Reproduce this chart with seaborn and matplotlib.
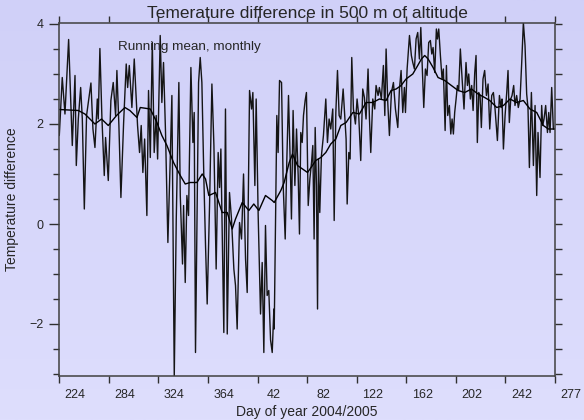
import numpy as np
import matplotlib
matplotlib.use("Agg")
import matplotlib.pyplot as plt
import matplotlib.transforms as mtransforms
from matplotlib.ticker import MultipleLocator
import seaborn as sns

# daily temperature difference, day 0 = day 224 of 2004
day = [0.0, 2.5, 4.8, 7.9, 11.0, 13.3, 14.4, 16.1, 18.1, 19.5, 21.2, 23.1, 24.6, 26.8,
       28.5, 30.2, 32.2, 33.0, 34.4, 36.1, 38.1, 39.2, 41.5, 43.7, 45.7, 47.7, 48.8,
       50.5, 52.2, 54.5, 56.7, 57.9, 59.3,
       61.5, 63.5, 65.8, 66.3, 68.0, 69.4, 70.8, 72.3, 74.2, 75.6, 77.1, 78.8, 80.4,
       82.1, 83.3, 85.5, 86.9, 88.3, 90.0, 92.0, 94.0, 95.4, 97.4, 99.1, 101.3, 102.5,
       104.4, 105.3, 106.7, 108.1, 109.5, 111.5, 113.2, 114.3, 115.4, 118.0, 119.4, 120.8,
       122.5, 123.9, 125.3, 127.3, 129.3, 131.0, 132.9, 134.6, 135.8, 136.9, 138.0,
       139.4, 140.8, 142.3, 144.2, 145.9, 147.9, 149.3, 150.7, 152.7, 154.4, 156.1,
       157.8, 159.2, 161.2, 162.9, 164.0, 165.7, 166.8, 168.5, 170.5, 171.9, 173.3,
       174.7, 176.1, 177.5, 179.0, 180.4, 181.8,
       182.1, 183.2, 184.3, 185.4, 186.6, 188.3, 189.7, 191.4, 192.8, 194.2, 195.6,
       196.7, 198.1, 199.6, 201.0, 202.4, 203.5, 204.6, 205.8, 206.9, 208.3, 209.4,
       210.9, 212.3, 213.7, 214.8, 215.9, 216.8, 217.9, 218.8, 219.6, 220.7, 222.1,
       223.8, 225.8, 227.2, 228.6, 230.0, 231.7, 232.9, 234.3, 235.7, 237.1, 238.5,
       240.5, 242.2,
       243.0, 243.9, 245.3, 246.4, 247.8, 249.2, 250.9, 252.3, 253.7, 255.4, 257.1,
       258.5, 259.9, 261.6, 262.8, 263.9, 265.6, 267.3, 268.4, 270.1, 271.2, 272.9,
       274.6, 275.8, 276.9, 278.3, 279.7, 281.4, 283.1, 284.8, 286.8, 288.2, 289.6,
       291.0, 292.4, 293.3, 294.7, 296.7, 298.3, 299.5, 300.9, 302.3, 303.7,
       305.1, 306.3, 307.4, 308.8, 310.2, 311.6, 313.0, 314.4, 315.6, 316.7, 318.1,
       319.5, 320.4, 321.5, 322.9, 324.3, 325.4, 326.9, 328.0, 329.1, 330.5, 331.7,
       332.8, 333.9, 335.0, 336.2, 337.3, 338.4, 339.8, 341.3, 342.9, 344.6, 345.8,
       346.9, 348.3, 349.4, 350.6, 352.0, 353.1, 354.2, 355.4, 356.5, 357.6, 359.0,
       360.4, 361.9, 363.3, 364.7,
       366.4, 367.8, 369.2, 371.2, 372.9, 374.3, 375.1, 376.3, 377.7, 379.1, 380.2,
       381.3, 382.5, 383.6, 385.0, 386.1, 387.5, 388.9, 390.4, 391.8, 393.2, 394.6,
       396.0, 397.1, 398.3, 400.0, 401.7, 403.1, 404.5, 405.6, 407.3, 408.7, 409.6,
       410.7, 412.1, 413.6, 414.7, 415.8, 417.2, 418.6, 420.0]
temp = [1.77, 2.93, 2.2, 3.69, 1.57, 2.97, 1.17, 2.1, 2.73, 2.1, 0.3, 2.17, 2.43, 2.82,
        1.9, 1.53, 2.5, 2.1, 3.51, 2.13, 0.97, 1.73, 0.87, 2.47, 2.83, 2.17, 3.07,
        1.97, 0.53, 2.03, 3.2, 2.73, 3.17,
        2.33, 3.3, 2.17, 1.97, 1.43, 1.97, 1.03, 1.7, 0.17, 2.67, 1.33, 3.63, 1.43,
        2.17, 1.3, 3.77, 2.43, 3.23, 1.83, -0.37, 1.3, 2.57, -3.05, 0.1, 2.83, 0.57,
        -0.8, 0.37, -1.17, 0.57, 0.17, 3.13, 1.63, 2.23, -2.57, 2.83, 3.33, 2.83,
        0.9, -0.43, -1.6, 0.37, 2.8, 1.57, -0.9, 1.43, 0.73, 1.5, -0.17,
        -2.17, 2.3, -2.2, 0.63, 0.1, -0.9, -1.23, -2.1, 0.03, -0.3, 1.0,
        -0.7, -1.37, 2.67, 2.3, 2.63, 0.77, 2.5, 0.17, -1.8, -0.77, -2.57,
        -0.03, -1.43, -1.33, -2.32, -2.57, -1.7,
        -2.1, -0.03, 2.17, 1.43, 2.87, 2.83, 0.77, -0.3, 1.3, 2.57, 1.3,
        0.1, 2.27, 0.77, 1.9, 0.97, -0.2, 1.83, 1.63, 2.17, 2.47, 2.63,
        0.37, 0.9, 1.23, 1.57, -0.3, 1.93, 0.77, -1.7, 1.3, 0.23, 1.37,
        1.77, 2.5, 1.63, 2.1, 1.9, 2.3, 0.07, 2.23, 3.07, 2.17, 2.1,
        2.7, 2.03,
        1.7, 0.4, 1.43, 1.3, 3.33, 2.3, 2.0, 2.5, 2.17, 1.27, 2.7,
        2.53, 2.1, 3.1, 2.1, 1.43, 2.5, 2.3, 2.77, 2.57, 2.73, 2.5,
        3.17, 2.17, 3.5, 2.43, 1.77, 2.63, 2.83, 2.3, 1.93, 2.7, 3.07,
        2.23, 2.73, 2.23, 3.1, 3.77, 3.37, 3.23, 3.1, 3.7, 3.83,
        3.3, 3.93, 3.23, 2.33, 3.1, 2.97, 3.63, 3.67, 3.4, 3.53, 3.03,
        3.9, 3.7, 3.9, 3.37, 2.9, 3.1, 1.87, 3.17, 2.17, 2.37, 1.8,
        2.1, 1.8, 2.23, 2.5, 2.77, 2.67, 3.5, 2.9, 2.3, 3.23, 2.77,
        3.0, 2.5, 2.77, 2.27, 3.03, 3.37, 1.63, 2.63, 2.57, 1.93, 2.9,
        3.07, 2.57, 2.8, 1.9,
        2.57, 2.63, 2.3, 1.67, 2.57, 2.33, 2.5, 1.5, 2.17, 2.63, 3.07,
        2.03, 2.5, 2.57, 2.77, 2.37, 2.57, 2.33, 2.5, 3.23, 4.03, 3.57,
        2.6, 2.33, 1.13, 2.63, 1.17, 2.37, 0.57, 1.83, 0.93, 2.37, 1.97,
        2.1, 2.37, 1.83, 2.23, 1.83, 2.73, 1.9, 1.9]

# monthly running mean
mean_day = [0.0, 16.1, 21.7, 30.2, 35.8, 41.5, 48.5, 55.6, 59.8, 65.8, 68.6, 77.1,
            82.7, 86.9, 91.2, 96.8, 102.5, 106.7, 110.9, 116.6, 121.1, 123.9, 126.7,
            132.4, 138.0, 142.3, 146.5, 149.3, 155.0, 160.6, 164.8, 169.1, 174.7,
            180.4, 182.1, 187.7, 190.5, 194.8, 197.6, 201.8, 206.1, 210.3, 214.5,
            217.3, 221.6, 225.8, 230.0, 234.3, 238.5, 243.0, 248.7, 254.3, 259.9,
            265.6, 271.2, 276.9, 281.1, 285.4, 289.6, 293.8, 299.5, 303.7, 306.8,
            309.6, 312.5, 316.7, 320.9, 326.6, 332.2, 337.9, 343.5, 349.2, 354.8,
            360.4, 364.7, 370.6, 376.3, 381.9, 387.5, 393.2, 398.8, 404.5, 407.3,
            410.1, 414.4, 420.0]
mean_val = [2.29, 2.27, 2.2, 2.0, 2.1, 1.97, 2.17, 2.33, 2.27, 2.13, 2.33, 2.3,
            2.03, 1.77, 1.57, 1.23, 0.97, 0.8, 0.83, 0.83, 1.0, 0.9, 0.57,
            0.63, 0.23, 0.23, -0.1, 0.1, 0.43, 0.27, 0.4, 0.27, 0.57,
            0.47, 0.43, 0.67, 0.83, 1.23, 1.4, 1.17, 1.1, 1.03, 1.17,
            1.27, 1.33, 1.43, 1.6, 1.7, 1.97, 2.03, 2.23, 2.2, 2.43,
            2.43, 2.5, 2.47, 2.67, 2.7, 2.77, 2.9, 3.0, 3.17, 3.3,
            3.37, 3.3, 3.13, 2.93, 2.87, 2.77, 2.67, 2.63, 2.7, 2.6,
            2.53, 2.47, 2.33, 2.37, 2.5, 2.43, 2.47, 2.3, 2.23, 2.1,
            1.97, 1.9, 1.9]

tick_days = np.arange(0, 421, 42)
tick_labels = ["224", "284", "324", "364", "42", "82", "122", "162", "202", "242", "277"]

sns.set_style("ticks")
plt.rcParams['font.family'] = ['Liberation Sans', 'DejaVu Sans']

fig = plt.figure(figsize=(5.84, 4.20), dpi=100)

# lavender gradient background
bg = fig.add_axes([0, 0, 1, 1], zorder=-10)
grad = np.linspace(0, 1, 256).reshape(-1, 1)
cmap = matplotlib.colors.LinearSegmentedColormap.from_list("bg", ["#d0d0f8", "#dedefd"])
bg.imshow(grad, aspect="auto", cmap=cmap, extent=[0, 1, 0, 1], origin="upper")
bg.axis("off")

ax = fig.add_axes([59.3 / 584, 1 - 375.5 / 420, 495.7 / 584, 353 / 420])
ax.set_facecolor("none")

sns.lineplot(x=day, y=temp, ax=ax, color="#151515", linewidth=1.0, estimator=None)
sns.lineplot(x=mean_day, y=mean_val, ax=ax, color="black", linewidth=1.0, estimator=None)

ax.set_xlim(0, 420)
ax.set_ylim(-3.03, 4.03)

for s in ax.spines.values():
    s.set_color("#404040")
    s.set_linewidth(1.1)

# x tick labels sit to the right of their ticks
ax.set_xticks(tick_days)
ax.set_xticklabels([])
offset = mtransforms.ScaledTranslation(16 / 100, 0, fig.dpi_scale_trans)
trans = mtransforms.blended_transform_factory(ax.transData, ax.transAxes) + offset
for d, lab in zip(tick_days, tick_labels):
    ax.text(d, -0.055, lab, transform=trans, ha="center", va="center",
            fontsize=9, clip_on=False)

ax.set_yticks([-2, 0, 2, 4])
ax.set_yticklabels(["\u22122", "0", "2", "4"], fontsize=9)
ax.yaxis.set_minor_locator(MultipleLocator(0.5))
ax.tick_params(axis="x", direction="out", length=5, width=1, color="#303030")
ax.tick_params(axis="y", which="major", direction="out", length=7.5, width=1, color="#303030", pad=4)
ax.tick_params(axis="y", which="minor", direction="out", length=4.5, width=1, color="#303030")

top = ax.secondary_xaxis("top")
top.set_xticks(tick_days)
top.set_xticklabels([])
top.tick_params(direction="out", length=4.5, width=1, color="#303030")
top.spines["top"].set_visible(False)

right = ax.secondary_yaxis("right")
right.set_yticks(np.arange(-3, 4.01, 0.5))
right.set_yticklabels([])
right.tick_params(direction="out", length=5, width=1, color="#303030")
right.spines["right"].set_visible(False)

ax.set_xlabel("Day of year 2004/2005", fontsize=10)
ax.xaxis.set_label_coords(0.5, -0.083)
ax.set_ylabel("Temperature difference", fontsize=10)
ax.yaxis.set_label_coords(-0.081, 0.5)
ax.set_title("Temerature difference in 500 m of altitude", fontsize=12.5, pad=3)
ax.text(0.118, 0.93, "Running mean, monthly", transform=ax.transAxes,
        fontsize=9.7, va="center", ha="left")

fig.savefig("out.png", dpi=100)
